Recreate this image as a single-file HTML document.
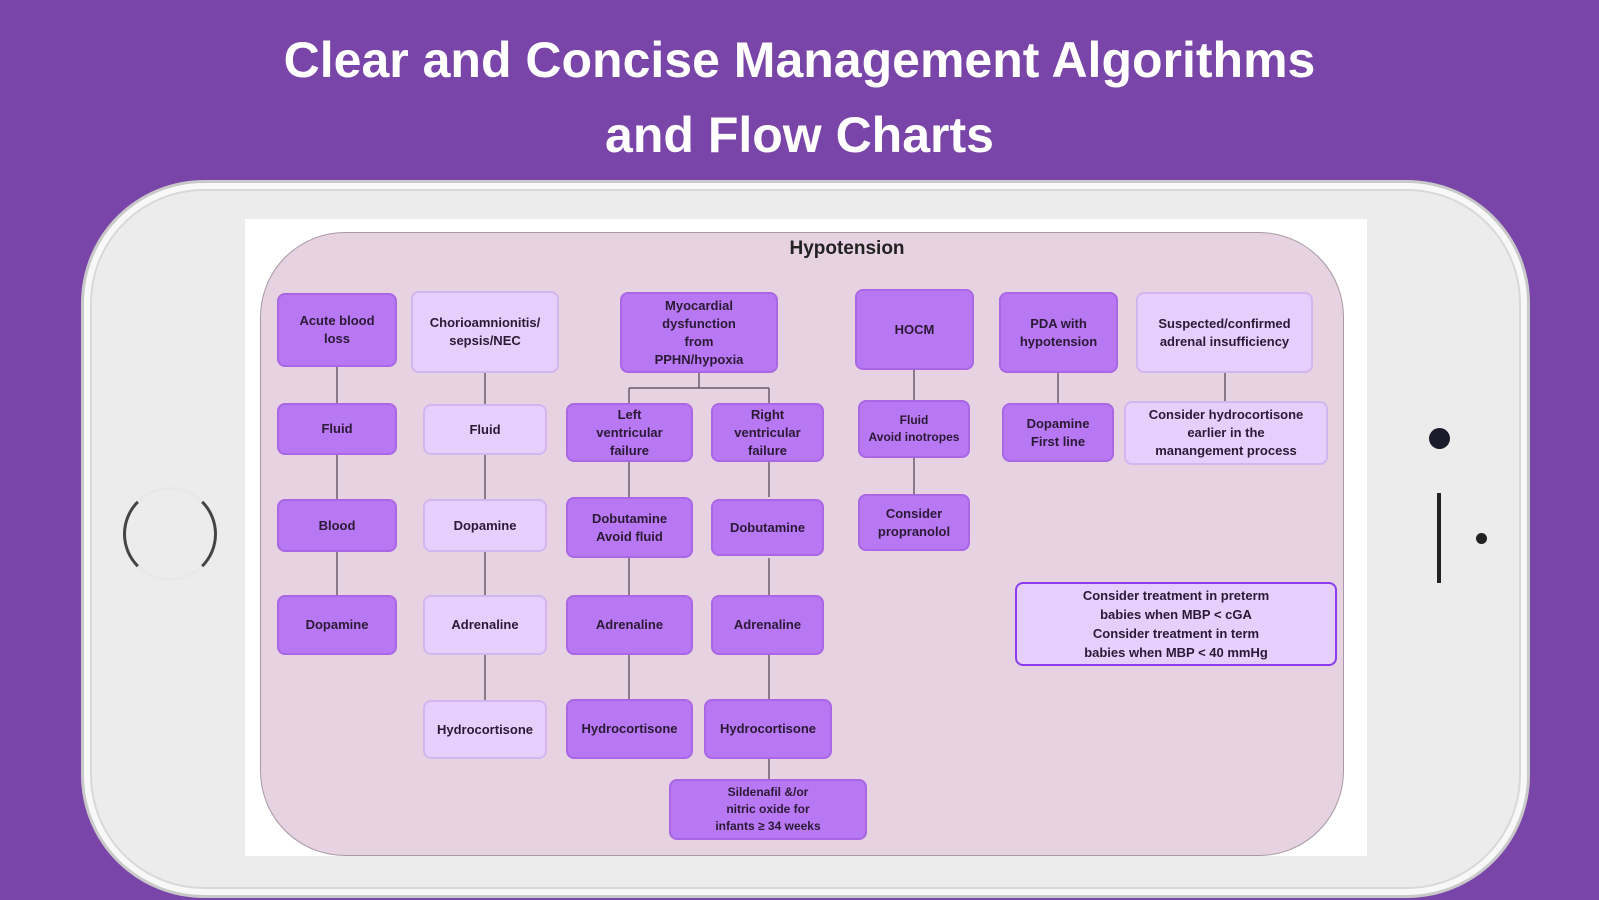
<!DOCTYPE html>
<html><head><meta charset="utf-8"><style>
*{margin:0;padding:0;box-sizing:border-box}
body{width:1599px;height:900px;background:#7a45a8;position:relative;overflow:hidden;font-family:"Liberation Sans",sans-serif}
.t{position:absolute;left:0;width:1599px;text-align:center;color:#fff;font-weight:bold;font-size:50px}
.phone{position:absolute;left:84px;top:183px;width:1443px;height:712px;border-radius:120px;background:#ececec;border:6px solid #f8f8f8;box-shadow:0 0 0 3px #c9c9c9,inset 0 0 0 2px #d8d8d8}
.screen{position:absolute;left:245px;top:219px;width:1122px;height:637px;background:#fff}
.dia{position:absolute;left:260px;top:232px;width:1084px;height:624px;border-radius:85px;background:#e6d2e0;border:1.5px solid #a89aa6}
.n{position:absolute;display:flex;align-items:center;justify-content:center;text-align:center;font-weight:bold;font-size:13px;line-height:18px;color:#2a1a35;border-radius:8px;background:#b877f3;border:2px solid #a967e6}
.l{background:#e6cffc;border:2px solid #d3b6f0}
svg{position:absolute;left:0;top:0}
</style></head><body>
<div class="t" style="top:31px">Clear and Concise Management Algorithms</div>
<div class="t" style="top:106px">and Flow Charts</div>
<div class="phone"></div>
<div style="position:absolute;left:123px;top:487px;width:94px;height:94px;border-radius:50%;border:3px solid #444;border-top-color:#e8e8e8;border-bottom-color:#e8e8e8"></div>
<div style="position:absolute;left:1429px;top:428px;width:21px;height:21px;border-radius:50%;background:#1b1b2b"></div>
<div style="position:absolute;left:1437px;top:493px;width:4px;height:90px;background:#222"></div>
<div style="position:absolute;left:1476px;top:533px;width:11px;height:11px;border-radius:50%;background:#222"></div>
<div class="screen"></div>
<div style="position:absolute;left:245px;top:856px;width:1122px;height:20px;background:#ececec"></div>
<div class="dia"></div>
<div style="position:absolute;left:747px;top:238px;width:200px;text-align:center;font-weight:bold;font-size:19px;color:#222">Hypotension</div>
<svg width="1599" height="900"><g stroke="#6a5a6a" stroke-width="1.5" fill="none">
<path d="M337 367V403M337 455V499M337 552V595"/>
<path d="M485 373V404M485 455V499M485 552V595M485 655V700"/>
<path d="M699 373V388M629 388H769M629 388V403M769 388V403"/>
<path d="M629 462V497M629 558V595M629 655V699"/>
<path d="M769 462V497M769 558V595M769 655V704M769 759V779"/>
<path d="M914 370V400M914 458V494"/>
<path d="M1058 373V403"/><path d="M1225 373V401"/>
</g></svg>
<div class="n" style="left:277px;top:293px;width:120px;height:74px">Acute blood<br>loss</div>
<div class="n" style="left:277px;top:403px;width:120px;height:52px">Fluid</div>
<div class="n" style="left:277px;top:499px;width:120px;height:53px">Blood</div>
<div class="n" style="left:277px;top:595px;width:120px;height:60px">Dopamine</div>
<div class="n l" style="left:411px;top:291px;width:148px;height:82px">Chorioamnionitis/<br>sepsis/NEC</div>
<div class="n l" style="left:423px;top:404px;width:124px;height:51px">Fluid</div>
<div class="n l" style="left:423px;top:499px;width:124px;height:53px">Dopamine</div>
<div class="n l" style="left:423px;top:595px;width:124px;height:60px">Adrenaline</div>
<div class="n l" style="left:423px;top:700px;width:124px;height:59px">Hydrocortisone</div>
<div class="n" style="left:620px;top:292px;width:158px;height:81px">Myocardial<br>dysfunction<br>from<br>PPHN/hypoxia</div>
<div class="n" style="left:566px;top:403px;width:127px;height:59px">Left<br>ventricular<br>failure</div>
<div class="n" style="left:711px;top:403px;width:113px;height:59px">Right<br>ventricular<br>failure</div>
<div class="n" style="left:566px;top:497px;width:127px;height:61px">Dobutamine<br>Avoid fluid</div>
<div class="n" style="left:711px;top:499px;width:113px;height:57px">Dobutamine</div>
<div class="n" style="left:566px;top:595px;width:127px;height:60px">Adrenaline</div>
<div class="n" style="left:711px;top:595px;width:113px;height:60px">Adrenaline</div>
<div class="n" style="left:566px;top:699px;width:127px;height:60px">Hydrocortisone</div>
<div class="n" style="left:704px;top:699px;width:128px;height:60px">Hydrocortisone</div>
<div class="n" style="left:669px;top:779px;width:198px;height:61px;font-size:12px;line-height:17px">Sildenafil &amp;/or<br>nitric oxide for<br>infants ≥ 34 weeks</div>
<div class="n" style="left:855px;top:289px;width:119px;height:81px">HOCM</div>
<div class="n" style="left:858px;top:400px;width:112px;height:58px;font-size:12px;line-height:17px">Fluid<br>Avoid inotropes</div>
<div class="n" style="left:858px;top:494px;width:112px;height:57px">Consider<br>propranolol</div>
<div class="n" style="left:999px;top:292px;width:119px;height:81px">PDA with<br>hypotension</div>
<div class="n" style="left:1002px;top:403px;width:112px;height:59px">Dopamine<br>First line</div>
<div class="n l" style="left:1136px;top:292px;width:177px;height:81px">Suspected/confirmed<br>adrenal insufficiency</div>
<div class="n l" style="left:1124px;top:401px;width:204px;height:64px">Consider hydrocortisone<br>earlier in the<br>manangement process</div>
<div class="n l" style="left:1015px;top:582px;width:322px;height:84px;border:2.5px solid #8a3df0;font-size:13px;line-height:19px">Consider treatment in preterm<br>babies when MBP &lt; cGA<br>Consider treatment in term<br>babies when MBP &lt; 40 mmHg</div>
</body></html>
